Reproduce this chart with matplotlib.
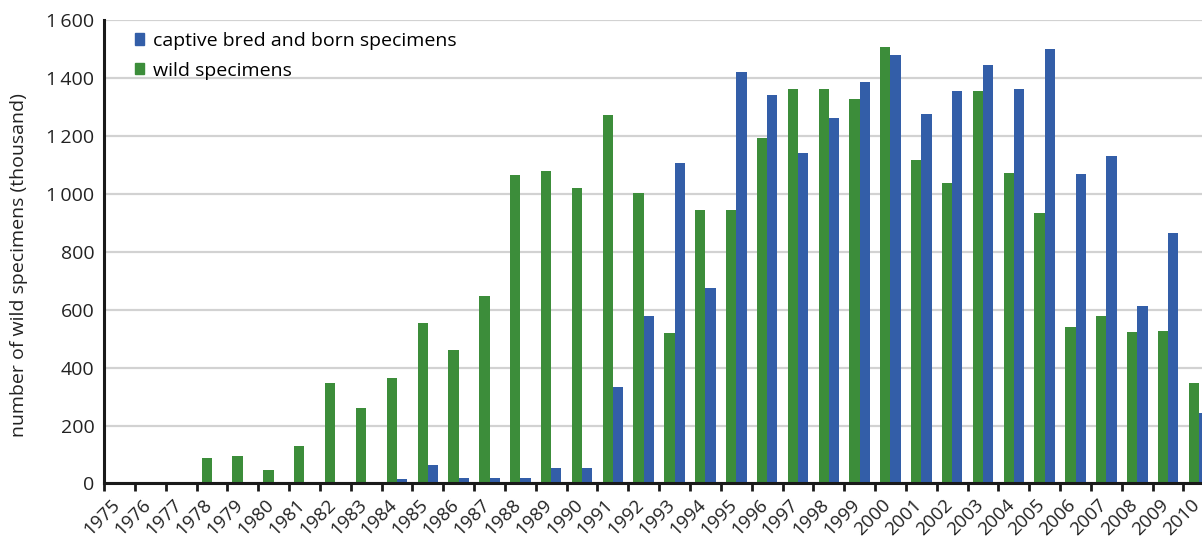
import numpy as np
import matplotlib
matplotlib.use("Agg")
import matplotlib.pyplot as plt
from matplotlib.patches import Patch
from matplotlib.ticker import FuncFormatter

plt.rcParams['font.family'] = ['Open Sans', 'DejaVu Sans']

years = list(range(1975, 2011))
# values in thousand specimens
wild = [0, 0, 0, 87, 95, 47, 130, 346, 261, 364, 554, 461, 648, 1066, 1079, 1021,
        1273, 1003, 520, 945, 945, 1193, 1363, 1363, 1328, 1508, 1117, 1038, 1356,
        1072, 934, 541, 579, 523, 527, 347]
captive = [0, 0, 0, 0, 0, 0, 0, 0, 0, 16, 64, 19, 19, 19, 54, 54,
           333, 579, 1107, 675, 1421, 1342, 1142, 1262, 1387, 1480, 1276, 1356, 1446,
           1363, 1501, 1069, 1131, 613, 865, 244]
yticks = [0, 200, 400, 600, 800, 1000, 1200, 1400, 1600]

green = '#3c8d3a'
blue = '#335ea8'

fig = plt.figure(figsize=(12.02, 5.39), dpi=100)
ax = fig.add_axes([0.0865, 0.103, 0.9135, 0.860])

x = np.arange(len(years))
w = 1 / 3
ax.bar(x - w / 2, wild, width=w, color=green, zorder=3)
ax.bar(x + w / 2, captive, width=w, color=blue, zorder=3)

ax.set_yticks(yticks)
ax.yaxis.set_major_formatter(FuncFormatter(lambda v, p: f"{int(v):,}".replace(',', '\u2009')))
ax.grid(axis='y', color='#d2d2d2', linewidth=1.6, zorder=0)

for s in ['top', 'right']:
    ax.spines[s].set_visible(False)
for s in ['left', 'bottom']:
    ax.spines[s].set_linewidth(2.2)
    ax.spines[s].set_color('#1a1a1a')
    ax.spines[s].set_zorder(4)

ax.tick_params(axis='y', length=0, labelsize=14, pad=7, labelcolor='#222222')
ax.set_xticks(x)
ax.set_xticklabels([str(y) for y in years], rotation=45, ha='right', va='top',
                   fontsize=13.5, color='#222222')
ax.tick_params(axis='x', which='major', length=0, pad=9)
ax.set_xticks(np.arange(len(years) + 1) - 0.5, minor=True)
ax.tick_params(axis='x', which='minor', length=6, width=2, color='#1a1a1a', direction='out')
for lab in ax.get_xticklabels():
    lab.set_transform(lab.get_transform() + matplotlib.transforms.ScaledTranslation(4 / 100, 0, fig.dpi_scale_trans))

# limits last, set_xticks would widen them
ax.set_xlim(-0.5, 35.1)
ax.set_ylim(0, 1600)

ax.set_ylabel('number of wild specimens (thousand)', fontsize=14, color='#222222')
ax.yaxis.set_label_coords(-0.069, 0.471)

handles = [Patch(color=blue), Patch(color=green)]
ax.legend(handles, ['captive bred and born specimens', 'wild specimens'],
          loc='upper left', bbox_to_anchor=(0.012, 1.012), frameon=False,
          fontsize=14, handlelength=0.5, handleheight=0.5, handletextpad=0.45,
          labelspacing=0.6)

fig.savefig('out.png', dpi=100)
